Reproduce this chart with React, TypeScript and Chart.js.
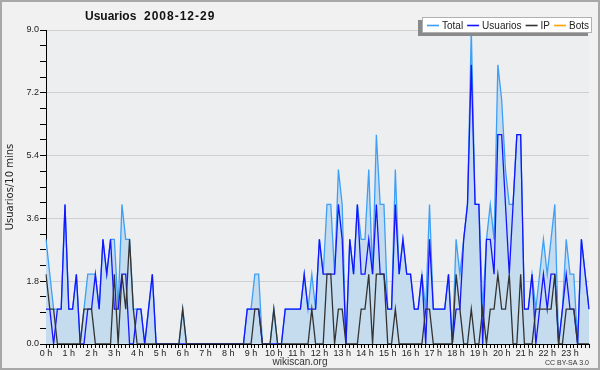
import { useEffect, useRef } from "react";
import { Chart, registerables } from "chart.js";

Chart.register(...registerables);

const TITLE_NAME = "Usuarios";
const TITLE_DATE = "2008-12-29";
const Y_TITLE = "Usuarios/10 mins";
const SOURCE = "wikiscan.org";
const LICENSE = "CC BY-SA 3.0";

const HOUR_LABELS = [
  "0 h", "1 h", "2 h", "3 h", "4 h", "5 h", "6 h", "7 h", "8 h", "9 h", "10 h", "11 h",
  "12 h", "13 h", "14 h", "15 h", "16 h", "17 h", "18 h", "19 h", "20 h", "21 h", "22 h", "23 h",
];

// 10-minute slots of the day
const SLOTS: string[] = [];
for (let h = 0; h < 24; h++) for (let m = 0; m < 6; m++) SLOTS.push(`${h}:${m}0`);

const TOTAL = [
  3, 2, 1, 1, 1, 4, 1, 1, 2, 0, 1, 2, 2, 2, 1, 3, 2, 3, 3, 1, 4, 3, 3, 1,
  1, 1, 0, 1, 2, 0, 0, 0, 0, 0, 0, 0, 1, 0, 0, 0, 0, 0, 0, 0, 0, 0, 0, 0,
  0, 0, 0, 0, 0, 1, 1, 2, 2, 0, 0, 0, 1, 0, 0, 1, 1, 1, 1, 1, 2, 1, 2, 1,
  3, 2, 4, 4, 2, 5, 4, 0, 3, 2, 4, 3, 3, 5, 2, 6, 4, 4, 1, 1, 5, 2, 3, 2,
  2, 1, 1, 2, 1, 4, 1, 1, 1, 1, 2, 0, 3, 2, 3, 4, 9, 4, 4, 1, 3, 4, 3, 8,
  7, 5, 4, 4, 6, 6, 1, 1, 2, 1, 2, 3, 2, 3, 4, 0, 1, 3, 2, 2, 0, 3, 2, 1,
];

const USUARIOS = [
  1, 1, 0, 1, 1, 4, 1, 1, 2, 0, 0, 1, 1, 2, 1, 3, 2, 3, 1, 1, 2, 2, 0, 0,
  1, 1, 0, 1, 2, 0, 0, 0, 0, 0, 0, 0, 0, 0, 0, 0, 0, 0, 0, 0, 0, 0, 0, 0,
  0, 0, 0, 0, 0, 1, 1, 1, 1, 0, 0, 0, 0, 0, 0, 1, 1, 1, 1, 1, 2, 1, 1, 1,
  3, 2, 2, 2, 2, 4, 3, 0, 3, 2, 4, 2, 2, 3, 2, 4, 2, 2, 1, 1, 4, 2, 3, 2,
  2, 1, 1, 2, 0, 3, 1, 1, 1, 1, 2, 0, 1, 1, 3, 4, 8, 4, 4, 0, 3, 3, 2, 6,
  6, 4, 2, 4, 6, 6, 1, 1, 2, 0, 1, 2, 1, 2, 2, 0, 1, 2, 1, 1, 0, 3, 2, 1,
];

const IP = [
  2, 1, 1, 0, 0, 0, 0, 0, 0, 0, 1, 1, 1, 0, 0, 0, 0, 0, 2, 0, 2, 1, 3, 1,
  0, 0, 0, 0, 0, 0, 0, 0, 0, 0, 0, 0, 1, 0, 0, 0, 0, 0, 0, 0, 0, 0, 0, 0,
  0, 0, 0, 0, 0, 0, 0, 1, 1, 0, 0, 0, 1, 0, 0, 0, 0, 0, 0, 0, 0, 0, 1, 0,
  0, 0, 2, 2, 0, 1, 1, 0, 0, 0, 0, 1, 1, 2, 0, 2, 2, 2, 0, 0, 1, 0, 0, 0,
  0, 0, 0, 0, 1, 1, 0, 0, 0, 0, 0, 0, 2, 1, 0, 0, 1, 0, 0, 1, 0, 1, 1, 2,
  1, 1, 2, 0, 0, 2, 0, 0, 0, 1, 1, 1, 1, 1, 2, 0, 0, 1, 1, 1, 0, 0, 0, 0,
];

const BOTS: number[] = [];

const SERIES_NAMES = ["Total", "Usuarios", "IP", "Bots"];
const SERIES_COLORS = ["#3d9ff5", "#1414ff", "#333333", "#ffa500"];

const Y_MAX = 9;
const Y_STEP = 1.8;

const decorPlugin = {
  id: "decor",
  beforeDraw(chart: any) {
    const { ctx, chartArea: a } = chart;
    ctx.save();
    ctx.fillStyle = "#f1f1f1";
    ctx.fillRect(0, 0, chart.width, chart.height);
    ctx.strokeStyle = "#a8a8a8";
    ctx.lineWidth = 2;
    ctx.strokeRect(1, 1, chart.width - 2, chart.height - 2);
    ctx.fillStyle = "#edeef0";
    ctx.fillRect(a.left, a.top, a.right - a.left, a.bottom - a.top);
    ctx.restore();
  },
  afterDraw(chart: any) {
    const { ctx, chartArea: a } = chart;
    ctx.save();
    // title
    ctx.fillStyle = "#111";
    ctx.textBaseline = "middle";
    ctx.textAlign = "left";
    ctx.font = "bold 12px 'Liberation Sans'";
    ctx.fillText(TITLE_NAME, 85, 16.5);
    (ctx as any).letterSpacing = "1px";
    ctx.fillText(TITLE_DATE, 144, 16.5);
    (ctx as any).letterSpacing = "0px";

    // y title
    ctx.save();
    ctx.translate(10, (a.top + a.bottom) / 2);
    ctx.rotate(-Math.PI / 2);
    ctx.textAlign = "center";
    ctx.font = "10px 'DejaVu Sans'";
    ctx.fillStyle = "#222";
    ctx.fillText(Y_TITLE, 0, 0);
    ctx.restore();

    // legend
    const bx = 422, by = 17, bw = 170, bh = 16;
    ctx.fillStyle = "#8a8a8a";
    ctx.fillRect(bx - 4, by + 3, bw, bh);
    ctx.fillStyle = "#ffffff";
    ctx.fillRect(bx, by, bw, bh);
    ctx.strokeStyle = "#b0b0b0";
    ctx.lineWidth = 1;
    ctx.strokeRect(bx + 0.5, by + 0.5, bw - 1, bh - 1);
    ctx.font = "10px 'Liberation Sans'";
    ctx.textBaseline = "middle";
    let x = bx + 5;
    const cy = by + bh / 2;
    chart.data.datasets.forEach((ds: any) => {
      ctx.strokeStyle = ds.borderColor;
      ctx.lineWidth = 1.6;
      ctx.beginPath();
      ctx.moveTo(x, cy + 0.5);
      ctx.lineTo(x + 12, cy + 0.5);
      ctx.stroke();
      x += 15;
      ctx.fillStyle = "#222";
      ctx.fillText(ds.label, x, cy + 1);
      x += ctx.measureText(ds.label).width + 4;
    });

    // footer
    ctx.fillStyle = "#333";
    ctx.textAlign = "center";
    ctx.font = "10px 'Liberation Sans'";
    ctx.fillText(SOURCE, 300, 362);
    ctx.textAlign = "right";
    ctx.font = "7px 'Liberation Sans'";
    ctx.fillText(LICENSE, 589, 363);
    ctx.restore();
  },
};

export default function App() {
  const ref = useRef<HTMLCanvasElement | null>(null);

  useEffect(() => {
    if (!ref.current) return;
    const seriesData = [TOTAL, USUARIOS, IP, BOTS];
    const chart = new Chart(ref.current, {
      type: "line",
      data: {
        labels: SLOTS,
        datasets: SERIES_NAMES.map((name, i) => ({
          label: name,
          data: seriesData[i],
          borderColor: SERIES_COLORS[i],
          backgroundColor: i === 0 ? "#c5dcef" : "transparent",
          fill: i === 0 ? "origin" : false,
          borderWidth: 1.3,
          pointRadius: 0,
          tension: 0,
          order: i === 0 ? 3 : i === 1 ? 1 : i === 2 ? 0 : 4,
        })),
      },
      options: {
        responsive: false,
        animation: false,
        layout: { padding: { top: 30, right: 11, left: 0, bottom: 0 } },
        plugins: {
          legend: { display: false },
          title: { display: false },
          tooltip: { enabled: false },
        },
        scales: {
          x: {
            type: "category",
            offset: false,
            afterFit: (s: any) => {
              s.height = 26;
            },
            grid: {
              drawOnChartArea: false,
              tickLength: 4,
              tickColor: "#000",
            },
            border: { color: "#000", width: 1 },
            ticks: {
              autoSkip: false,
              maxRotation: 0,
              padding: 0,
              color: "#222",
              font: { family: "'Liberation Sans'", size: 9 },
              callback: (_v: any, idx: number) => (idx % 6 === 0 ? HOUR_LABELS[idx / 6] : ""),
            },
          },
          y: {
            min: 0,
            max: Y_MAX,
            afterFit: (s: any) => {
              s.width = 46;
            },
            grid: {
              color: (c: any) => (c.index % 4 === 0 && c.index > 0 ? "#cfcfcf" : "transparent"),
              tickColor: "#000",
              tickLength: 6,
            },
            border: { color: "#000", width: 1 },
            ticks: {
              stepSize: Y_STEP / 4,
              autoSkip: false,
              padding: 1,
              color: "#222",
              font: { family: "'Liberation Sans'", size: 9 },
              callback: (v: any, idx: number) => (idx % 4 === 0 ? Number(v).toFixed(1) : ""),
            },
          },
        },
      },
      plugins: [decorPlugin],
    });
    return () => chart.destroy();
  }, []);

  return (
    <div style={{ position: "absolute", left: 0, top: 0, width: 600, height: 370 }}>
      <canvas ref={ref} width={600} height={370} />
    </div>
  );
}
